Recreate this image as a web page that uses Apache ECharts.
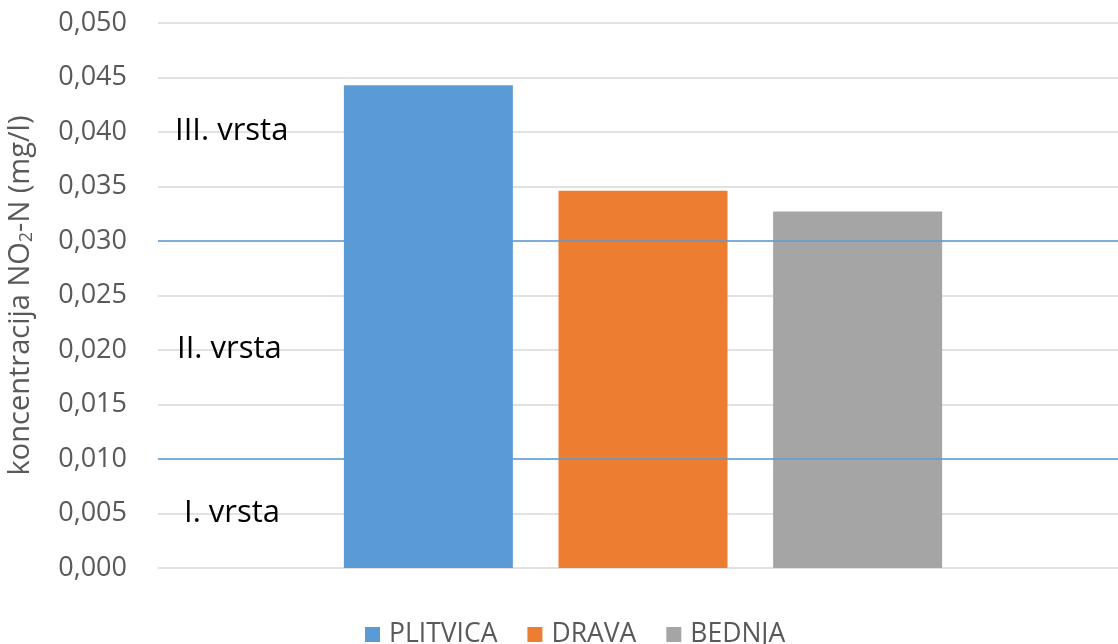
<!DOCTYPE html>
<html>
<head>
<meta charset="utf-8">
<script src="https://cdn.jsdelivr.net/npm/echarts@6/dist/echarts.min.js"></script>
<style>html,body{margin:0;padding:0;background:#fff;}#c{width:1118px;height:644px;}</style>
</head>
<body>
<div id="c"></div>
<script>
const categories = [''];
const seriesNames = ['PLITVICA', 'DRAVA', 'BEDNJA'];
const seriesValues = [[0.0443], [0.0346], [0.0327]];
const seriesColors = ['#5b9bd5', '#ed7d31', '#a5a5a5'];
const limitLines = [0.010, 0.030];
const classLabels = ['III. vrsta', 'II. vrsta', 'I. vrsta'];
const classLabelValues = [0.040, 0.020, 0.005];
const yTicks = { min: 0, max: 0.05, interval: 0.005 };

const chart = echarts.init(document.getElementById('c'));
const FONT = '"Open Sans", sans-serif';

const series = seriesNames.map((n, i) => ({
  name: n,
  type: 'bar',
  data: seriesValues[i],
  barWidth: 169,
  barGap: '27%',
  itemStyle: { color: seriesColors[i] },
  markLine: i === 0 ? {
    silent: true,
    symbol: 'none',
    label: { show: false },
    lineStyle: { color: '#5b9bd5', width: 1.5, type: 'solid' },
    data: limitLines.map(v => ({ yAxis: v }))
  } : undefined
}));

chart.setOption({
  animation: false,
  textStyle: { fontFamily: FONT },
  grid: { left: 158, right: -10, top: 23, bottom: 76, containLabel: false, outerBoundsMode: 'none' },
  legend: {
    left: 365,
    top: 621,
    padding: 0,
    itemWidth: 15,
    itemHeight: 15,
    itemGap: 30,
    icon: 'rect',
    textStyle: { fontSize: 26.5, color: '#595959', fontFamily: FONT, padding: [0, 0, 0, 4] }
  },
  xAxis: {
    type: 'category',
    data: categories,
    axisLine: { show: false },
    axisTick: { show: false },
    axisLabel: { show: false }
  },
  yAxis: {
    type: 'value',
    min: yTicks.min,
    max: yTicks.max,
    interval: yTicks.interval,
    name: 'koncentracija NO{sub|2}-N (mg/l)',
    nameLocation: 'middle',
    nameGap: 123,
    nameRotate: 90,
    nameTextStyle: {
      fontSize: 29, color: '#595959', fontFamily: FONT,
      rich: { sub: { fontSize: 18, color: '#595959', fontFamily: FONT, padding: [0, 0, -12, 0] } }
    },
    axisLine: { show: false },
    axisTick: { show: false },
    axisLabel: {
      fontSize: 27, color: '#595959', margin: 31,
      formatter: v => v.toFixed(3).replace('.', ',')
    },
    splitLine: { lineStyle: { color: '#d9d9d9', width: 1.5 } }
  },
  series: series
});

chart.setOption({
  graphic: classLabels.map((t, i) => {
    const y = chart.convertToPixel({ yAxisIndex: 0 }, classLabelValues[i]);
    return {
      type: 'text',
      left: 175 + (i === 2 ? 9 : (i === 1 ? 2 : 0)),
      top: y - 16,
      style: { text: t, fontSize: 31, fill: '#000', fontFamily: FONT }
    };
  })
});
</script>
</body>
</html>
